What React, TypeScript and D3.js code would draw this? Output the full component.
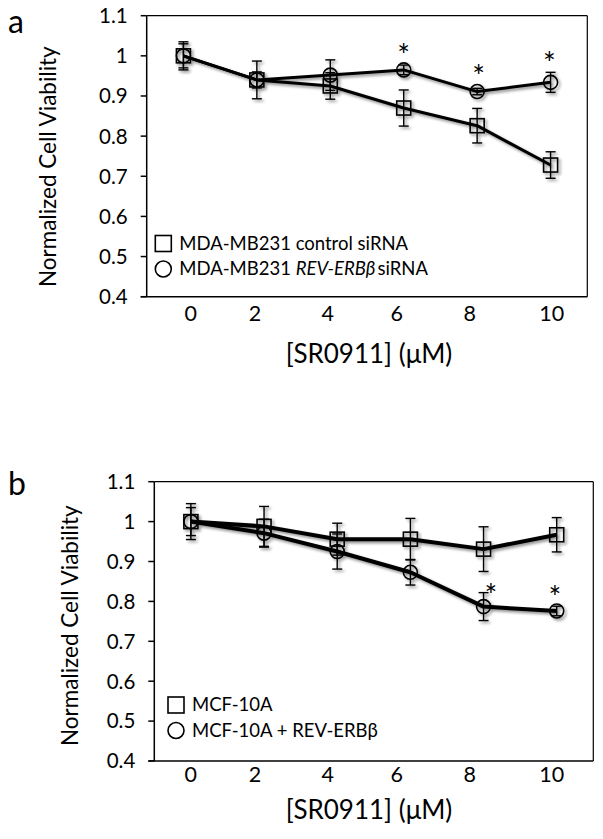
import React from 'react';
import * as d3 from 'd3';

// ---------- data ----------
const concentrations = [0, 2, 4, 6, 8, 10];
const xTickLabels = ['0', '2', '4', '6', '8', '10'];
// label centres (concentration units on panel-a scale; labels shared by both panels)
const xLabelAt = [0.2, 1.95, 3.93, 5.81, 7.8, 10.03];
const yTicks = [0.4, 0.5, 0.6, 0.7, 0.8, 0.9, 1.0, 1.1];
const yTickLabels = ['0.4', '0.5', '0.6', '0.7', '0.8', '0.9', '1', '1.1'];

// panel a
const aControl = [1.0, 0.94, 0.925, 0.87, 0.826, 0.728];
const aControlErr = [0.035, 0.047, 0.033, 0.045, 0.043, 0.033];
const aKnockdown = [1.0, 0.94, 0.952, 0.965, 0.911, 0.934];
const aKnockdownErr = [0.03, 0.02, 0.038, 0.012, 0.008, 0.025];
const aStarX = [6, 8.04, 9.97];
const aStarY = [1.015, 0.963, 0.997];

// panel b
const bControl = [1.0, 0.988, 0.956, 0.956, 0.931, 0.967];
const bControlErr = [0.045, 0.05, 0.04, 0.052, 0.056, 0.043];
const bRev = [1.0, 0.971, 0.925, 0.873, 0.787, 0.776];
const bRevErr = [0.035, 0.035, 0.044, 0.032, 0.035, 0.012];
const bStarX = [8.2, 9.95];
const bStarY = [0.829, 0.825];

const FONT = 'Lato, "Open Sans", sans-serif';

type Series = { values: number[]; errs: number[]; shape: 'square' | 'circle' };

type PanelProps = {
  letter: string;
  left: number; right: number; top: number; bottom: number;
  series: Series[];
  starX: number[]; starY: number[];
  lineWidth: number;
  yTitleX: number; yTitleY: number;
  xLabelY: number;
  xTitleY: number;
  legend: { shape: 'square' | 'circle'; parts: { t: string; italic?: boolean; dx?: number }[] }[];
  legendX: number; legendY: number[];
  letterY: number;
};

const labelScale = d3.scaleLinear().domain([-1, 11]).range([146.7, 587.3]);

function Marker({ shape, x, y, size }: { shape: string; x: number; y: number; size: number }) {
  if (shape === 'square') {
    return <rect x={x - size / 2} y={y - size / 2} width={size} height={size} fill="none" stroke="#000" strokeWidth={1.6} />;
  }
  return <circle cx={x} cy={y} r={size / 2} fill="none" stroke="#000" strokeWidth={1.6} />;
}

function Panel(p: PanelProps) {
  const x = d3.scaleLinear().domain([-1, 11]).range([p.left, p.right]);
  const y = d3.scaleLinear().domain([0.4, 1.1]).range([p.bottom, p.top]);
  const line = d3.line<number>().x((_, i) => x(concentrations[i])).y((v) => y(v));
  const starFs = 30;
  return (
    <g>
      <text x={8} y={p.letterY} fontFamily={FONT} fontSize={32} fill="#000">{p.letter}</text>
      {/* frame */}
      <line x1={p.left} x2={p.right} y1={p.top} y2={p.top} stroke="#000" strokeWidth={1.2} />
      <line x1={p.right} x2={p.right} y1={p.top} y2={p.bottom} stroke="#000" strokeWidth={1.2} />
      <line x1={p.left} x2={p.left} y1={p.top} y2={p.bottom} stroke="#000" strokeWidth={1.5} />
      <line x1={p.left - 6} x2={p.right} y1={p.bottom} y2={p.bottom} stroke="#000" strokeWidth={1.5} />
      {yTicks.map((t, i) => (
        <g key={i}>
          <line x1={p.left - 6} x2={p.left} y1={y(t)} y2={y(t)} stroke="#000" strokeWidth={1.5} />
          <text x={p.left - 19} y={y(t)} dy="0.36em" textAnchor="end" fontFamily={FONT} fontSize={20.5} fill="#000">{yTickLabels[i]}</text>
        </g>
      ))}
      {xTickLabels.map((t, i) => (
        <text key={i} x={labelScale(xLabelAt[i])} y={p.xLabelY} dy="0.36em" textAnchor="middle" fontFamily={FONT} fontSize={21.5} fill="#000">{t}</text>
      ))}
      <text x={369} y={p.xTitleY} textAnchor="middle" fontFamily={FONT} fontSize={26} fill="#000">[SR0911] (μM)</text>
      <text transform={`translate(${p.yTitleX},${p.yTitleY}) rotate(-90)`} textAnchor="middle" fontFamily={FONT} fontSize={22.5} fill="#000">Normalized Cell Viability</text>
      {/* series */}
      <g filter="url(#shadow)">
        {p.series.map((s, si) => (
          <g key={si}>
            {s.values.map((v, i) => (
              <g key={i}>
                <line x1={x(concentrations[i])} x2={x(concentrations[i])} y1={y(v + s.errs[i])} y2={y(v - s.errs[i])} stroke="#000" strokeWidth={1.4} />
                <line x1={x(concentrations[i]) - 5} x2={x(concentrations[i]) + 5} y1={y(v + s.errs[i])} y2={y(v + s.errs[i])} stroke="#000" strokeWidth={1.4} />
                <line x1={x(concentrations[i]) - 5} x2={x(concentrations[i]) + 5} y1={y(v - s.errs[i])} y2={y(v - s.errs[i])} stroke="#000" strokeWidth={1.4} />
                <Marker shape={s.shape} x={x(concentrations[i])} y={y(v)} size={14} />
              </g>
            ))}
            <path d={line(s.values) || ''} fill="none" stroke="#000" strokeWidth={p.lineWidth} strokeLinejoin="round" />
          </g>
        ))}
      </g>
      {p.starX.map((sx, i) => (
        <text key={i} x={x(sx)} y={y(p.starY[i]) + starFs * 0.55} textAnchor="middle" fontFamily={FONT} fontSize={starFs} fill="#000">*</text>
      ))}
      {/* legend */}
      {p.legend.map((l, i) => (
        <g key={i}>
          <Marker shape={l.shape} x={p.legendX} y={p.legendY[i]} size={16} />
          <text x={p.legendX + 16} y={p.legendY[i]} dy="0.35em" fontFamily={FONT} fontSize={18.5} fill="#000">
            {l.parts.map((pt, j) => (
              <tspan key={j} fontStyle={pt.italic ? 'italic' : 'normal'} dx={pt.dx || 0}>{pt.t}</tspan>
            ))}
          </text>
        </g>
      ))}
    </g>
  );
}

export default function App() {
  return (
    <svg width={603} height={839} style={{ position: 'absolute', left: 0, top: 0, background: '#fff' }}>
      <defs>
        <filter id="shadow" x="-20%" y="-20%" width="140%" height="140%">
          <feGaussianBlur in="SourceAlpha" stdDeviation="1.5" />
          <feOffset dx="1.5" dy="1.5" result="ob" />
          <feComponentTransfer><feFuncA type="linear" slope="0.45" /></feComponentTransfer>
          <feMerge><feMergeNode /><feMergeNode in="SourceGraphic" /></feMerge>
        </filter>
      </defs>
      <rect width={603} height={839} fill="#fff" />
      <Panel
        letter="a" letterY={33}
        left={146.7} right={587.3} top={15.7} bottom={296.7}
        series={[
          { values: aControl, errs: aControlErr, shape: 'square' },
          { values: aKnockdown, errs: aKnockdownErr, shape: 'circle' },
        ]}
        starX={aStarX} starY={aStarY}
        lineWidth={3}
        yTitleX={56} yTitleY={166.7} xLabelY={313.5} xTitleY={363}
        legend={[
          { shape: 'square', parts: [{ t: 'MDA-MB231 control siRNA' }] },
          { shape: 'circle', parts: [{ t: 'MDA-MB231 ' }, { t: 'REV-ERBβ', italic: true }, { t: 'siRNA', dx: 2 }] },
        ]}
        legendX={163.3} legendY={[243.5, 269]}
      />
      <Panel
        letter="b" letterY={495}
        left={154.3} right={593.3} top={481.7} bottom={761}
        series={[
          { values: bControl, errs: bControlErr, shape: 'square' },
          { values: bRev, errs: bRevErr, shape: 'circle' },
        ]}
        starX={bStarX} starY={bStarY}
        lineWidth={4}
        yTitleX={77.5} yTitleY={625.7} xLabelY={774} xTitleY={819}
        legend={[
          { shape: 'square', parts: [{ t: 'MCF-10A' }] },
          { shape: 'circle', parts: [{ t: 'MCF-10A + REV-ERBβ' }] },
        ]}
        legendX={176} legendY={[705, 730.5]}
      />
    </svg>
  );
}
